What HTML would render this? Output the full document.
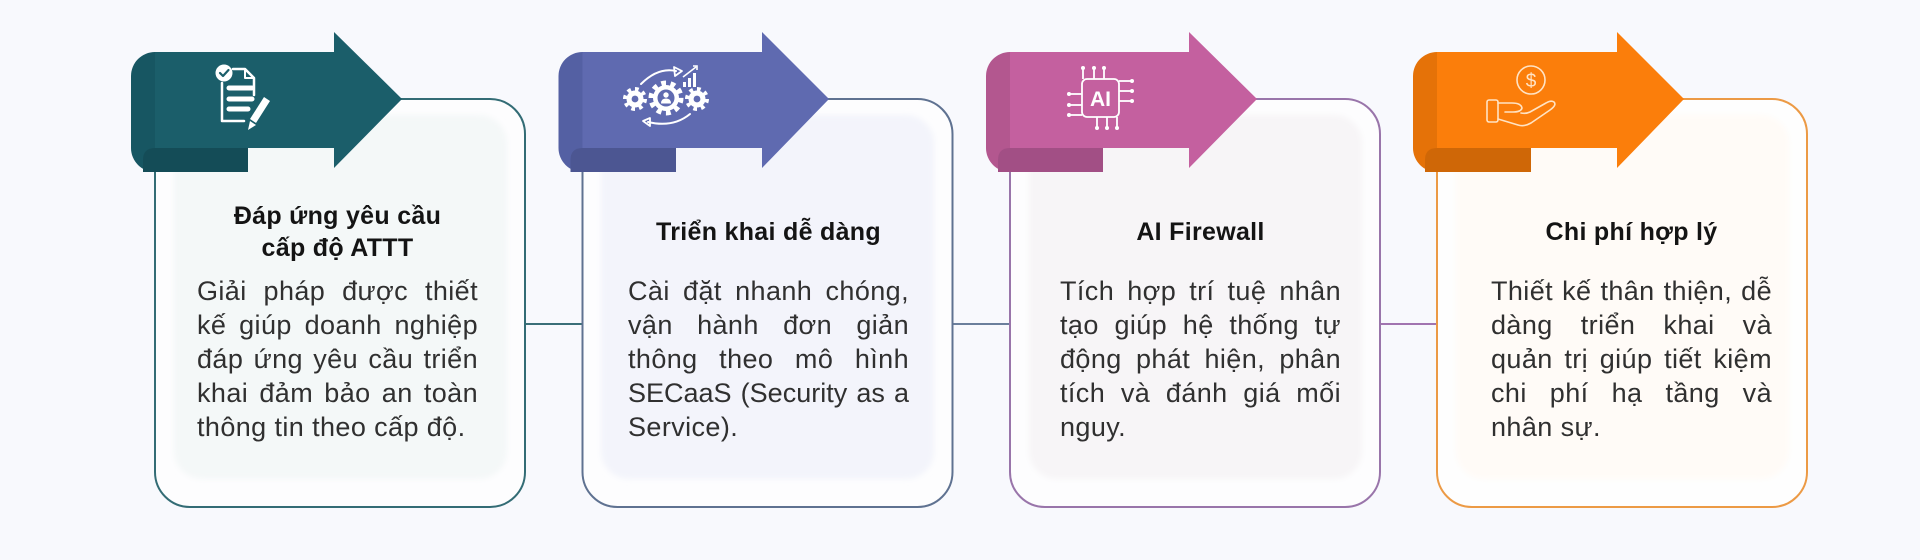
<!DOCTYPE html>
<html>
<head>
<meta charset="utf-8">
<style>
  html,body{margin:0;padding:0;}
  body{width:1920px;height:560px;background:#f8f9fd;position:relative;overflow:hidden;font-family:"Liberation Sans","Noto Sans CJK SC",sans-serif;}
  svg.bg{position:absolute;left:0;top:0;}
  .title{position:absolute;width:281px;text-align:center;font-weight:bold;font-size:25px;line-height:32px;letter-spacing:0.3px;color:#141414;}
  .body{position:absolute;width:281px;font-size:27px;letter-spacing:0.4px;color:#303030;}
  .body div{height:34px;line-height:34px;text-align:justify;text-align-last:justify;white-space:normal;}
  .body div.last{text-align-last:left;text-align:left;}
</style>
</head>
<body>
<svg class="bg" width="1920" height="560" viewBox="0 0 1920 560" xmlns="http://www.w3.org/2000/svg">
  <defs>
    <filter id="blur" x="-10%" y="-10%" width="120%" height="120%"><feGaussianBlur stdDeviation="3"/></filter>
  </defs>

  <!-- connectors -->
  <line x1="525" y1="324" x2="583" y2="324" stroke="#3b6f78" stroke-width="2"/>
  <line x1="952" y1="324" x2="1010" y2="324" stroke="#6b7f9c" stroke-width="2"/>
  <line x1="1380" y1="324" x2="1437" y2="324" stroke="#a174b0" stroke-width="2"/>

  <!-- cards -->
  <rect x="155" y="99" width="370" height="408" rx="35" fill="#fdfdfe" stroke="#336c75" stroke-width="2"/>
  <rect x="174" y="115" width="333" height="364" rx="28" fill="#f4f8f8" filter="url(#blur)"/>

  <rect x="582.5" y="99" width="370" height="408" rx="35" fill="#fdfdfe" stroke="#5f7291" stroke-width="2"/>
  <rect x="601" y="115" width="333" height="364" rx="28" fill="#f3f4fb" filter="url(#blur)"/>

  <rect x="1010" y="99" width="370" height="408" rx="35" fill="#fdfdfe" stroke="#9975aa" stroke-width="2"/>
  <rect x="1029" y="115" width="333" height="364" rx="28" fill="#f7f5f7" filter="url(#blur)"/>

  <rect x="1437" y="99" width="370" height="408" rx="35" fill="#fefefe" stroke="#ec9a45" stroke-width="2"/>
  <rect x="1456" y="115" width="333" height="364" rx="28" fill="#fffbf7" filter="url(#blur)"/>

  <!-- arrow 1 (teal) L=155 -->
  <rect x="131" y="52" width="50" height="120" rx="24" fill="#175662"/>
  <path d="M155,52 H334 V32 L402,99 L334,168 V148 H155 Z" fill="#1b5e6a"/>
  <path d="M143,172 V160 Q143,148 155,148 H248 V172 Z" fill="#144c57"/>

  <!-- arrow 2 (purple) L=582.5 -->
  <rect x="558.5" y="52" width="50" height="120" rx="24" fill="#5460a3"/>
  <path d="M582.5,52 H762 V32 L829,99 L762,168 V148 H582.5 Z" fill="#5f6ab0"/>
  <path d="M570.5,172 V160 Q570.5,148 582.5,148 H676 V172 Z" fill="#4c5692"/>

  <!-- arrow 3 (pink) L=1010 -->
  <rect x="986" y="52" width="50" height="120" rx="24" fill="#b3578f"/>
  <path d="M1010,52 H1189 V32 L1257,99 L1189,168 V148 H1010 Z" fill="#c4609f"/>
  <path d="M998,172 V160 Q998,148 1010,148 H1103 V172 Z" fill="#a24f85"/>

  <!-- arrow 4 (orange) L=1437 -->
  <rect x="1413" y="52" width="50" height="120" rx="24" fill="#e57208"/>
  <path d="M1437,52 H1617 V32 L1684,99 L1617,168 V148 H1437 Z" fill="#fb7e0b"/>
  <path d="M1425,172 V160 Q1425,148 1437,148 H1531 V172 Z" fill="#cf6707"/>

  <!-- icon 1: document with check & pencil -->
  <g fill="none" stroke="#ffffff" stroke-linecap="round" stroke-linejoin="round">
    <path d="M233,69 H245 L254,78 V95" stroke-width="2.5"/>
    <path d="M245,69 V78 H254" stroke-width="2"/>
    <path d="M222,83 V121 H244" stroke-width="2.5"/>
    <line x1="229" y1="88" x2="252" y2="88" stroke-width="5"/>
    <line x1="229" y1="99" x2="252" y2="99" stroke-width="5"/>
    <line x1="229" y1="109" x2="248" y2="109" stroke-width="5"/>
  </g>
  <circle cx="224" cy="73" r="8.5" fill="#ffffff"/>
  <path d="M220,73 L223,76 L228.5,70" fill="none" stroke="#1b5e6a" stroke-width="2.2" stroke-linecap="round" stroke-linejoin="round"/>
  <path d="M264,97 L270,101 L256,123 L250,119 Z" fill="#ffffff"/>
  <path d="M250,121 L256,125 L248,130 Z" fill="#ffffff"/>

  <!-- icon 2: gears -->
  <g fill="none" stroke="#ffffff" stroke-linecap="round">
    <path d="M641,84 Q658,67 676,71" stroke-width="2"/>
    <path d="M690,114 Q673,128 648,122" stroke-width="2"/>
  </g>
  <path d="M674,67 L682,71 L675,76 Z" fill="none" stroke="#ffffff" stroke-width="1.8" stroke-linejoin="round"/>
  <path d="M650,118 L643,121 L650,126 Z" fill="none" stroke="#ffffff" stroke-width="1.8" stroke-linejoin="round"/>
  <g fill="#ffffff">
    <rect x="683" y="82" width="3" height="5"/>
    <rect x="688" y="78" width="3" height="9"/>
    <rect x="693" y="73" width="3" height="14"/>
  </g>
  <path d="M683,77 L696,67" stroke="#ffffff" stroke-width="1.6" fill="none"/>
  <path d="M693,66 L697,66 L697,70" stroke="#ffffff" stroke-width="1.6" fill="none"/>
  <!-- center gear -->
  <circle cx="666" cy="98" r="15" fill="none" stroke="#ffffff" stroke-width="5" stroke-dasharray="4.8 4.6"/>
  <circle cx="666" cy="98" r="13" fill="#ffffff"/>
  <circle cx="666" cy="98" r="8.5" fill="#5f6ab0"/>
  <circle cx="666" cy="95" r="2.7" fill="#ffffff"/>
  <path d="M661,103.5 Q661,98.5 666,98.5 Q671,98.5 671,103.5 Z" fill="#ffffff"/>
  <!-- side gears -->
  <circle cx="635" cy="99" r="10" fill="none" stroke="#ffffff" stroke-width="4" stroke-dasharray="3.7 4.1"/>
  <circle cx="635" cy="99" r="8.5" fill="#ffffff"/>
  <circle cx="635" cy="99" r="3.4" fill="#5f6ab0"/>
  <circle cx="697" cy="99" r="10" fill="none" stroke="#ffffff" stroke-width="4" stroke-dasharray="3.7 4.1"/>
  <circle cx="697" cy="99" r="8.5" fill="#ffffff"/>
  <circle cx="697" cy="99" r="3.4" fill="#5f6ab0"/>

  <!-- icon 3: AI chip -->
  <g stroke="#ffffff" stroke-width="1.8" fill="none">
    <rect x="1082" y="79" width="37" height="38" rx="5"/>
    <line x1="1083" y1="69" x2="1083" y2="79"/>
    <line x1="1094" y1="69" x2="1094" y2="79"/>
    <line x1="1104" y1="69" x2="1104" y2="79"/>
    <line x1="1097" y1="117" x2="1097" y2="127"/>
    <line x1="1107" y1="117" x2="1107" y2="127"/>
    <line x1="1117" y1="117" x2="1117" y2="127"/>
    <line x1="1070" y1="94" x2="1082" y2="94"/>
    <line x1="1070" y1="105" x2="1082" y2="105"/>
    <line x1="1070" y1="115" x2="1082" y2="115"/>
    <line x1="1119" y1="81" x2="1131" y2="81"/>
    <line x1="1119" y1="91" x2="1131" y2="91"/>
    <line x1="1119" y1="101" x2="1131" y2="101"/>
  </g>
  <g fill="#ffffff">
    <circle cx="1083" cy="68" r="2"/><circle cx="1094" cy="68" r="2"/><circle cx="1104" cy="68" r="2"/>
    <circle cx="1097" cy="128" r="2"/><circle cx="1107" cy="128" r="2"/><circle cx="1117" cy="128" r="2"/>
    <circle cx="1069" cy="94" r="2"/><circle cx="1069" cy="105" r="2"/><circle cx="1069" cy="115" r="2"/>
    <circle cx="1132" cy="81" r="2"/><circle cx="1132" cy="91" r="2"/><circle cx="1132" cy="101" r="2"/>
  </g>
  <text x="1100.5" y="106" text-anchor="middle" font-family="Liberation Sans, sans-serif" font-weight="bold" font-size="21" fill="#ffffff">AI</text>

  <!-- icon 4: hand with coin -->
  <circle cx="1531" cy="80" r="14" fill="none" stroke="#ffe3c4" stroke-width="1.6"/>
  <text x="1531" y="87" text-anchor="middle" font-family="Liberation Sans, sans-serif" font-size="19" fill="#ffe3c4">$</text>
  <g fill="none" stroke="#ffe3c4" stroke-width="1.6" stroke-linejoin="round" stroke-linecap="round">
    <rect x="1487" y="100" width="11" height="22" rx="2"/>
    <path d="M1498,103 H1512 Q1521,103 1522,108 Q1521,112 1513,112 H1505"/>
    <path d="M1498,119 L1518,125 Q1524,127 1531,123 L1550,110 Q1557,105 1554,102 Q1551,100 1546,103 L1530,112 Q1526,114 1521,113"/>
  </g>
</svg>

<!-- Card 1 text -->
<div class="title" style="left:197px;top:200px;">Đáp ứng yêu cầu<br>cấp độ ATTT</div>
<div class="body" style="left:197px;top:274px;">
  <div>Giải pháp được thiết</div>
  <div>kế giúp doanh nghiệp</div>
  <div>đáp ứng yêu cầu triển</div>
  <div>khai đảm bảo an toàn</div>
  <div class="last">thông tin theo cấp độ.</div>
</div>

<!-- Card 2 text -->
<div class="title" style="left:628px;top:216px;">Triển khai dễ dàng</div>
<div class="body" style="left:628px;top:274px;">
  <div>Cài đặt nhanh chóng,</div>
  <div>vận hành đơn giản</div>
  <div>thông theo mô hình</div>
  <div style="letter-spacing:0;">SECaaS (Security as a</div>
  <div class="last">Service).</div>
</div>

<!-- Card 3 text -->
<div class="title" style="left:1060px;top:216px;">AI Firewall</div>
<div class="body" style="left:1060px;top:274px;">
  <div>Tích hợp trí tuệ nhân</div>
  <div>tạo giúp hệ thống tự</div>
  <div>động phát hiện, phân</div>
  <div>tích và đánh giá mối</div>
  <div class="last">nguy.</div>
</div>

<!-- Card 4 text -->
<div class="title" style="left:1491px;top:216px;">Chi phí hợp lý</div>
<div class="body" style="left:1491px;top:274px;">
  <div>Thiết kế thân thiện, dễ</div>
  <div>dàng triển khai và</div>
  <div>quản trị giúp tiết kiệm</div>
  <div>chi phí hạ tầng và</div>
  <div class="last">nhân sự.</div>
</div>
</body>
</html>
